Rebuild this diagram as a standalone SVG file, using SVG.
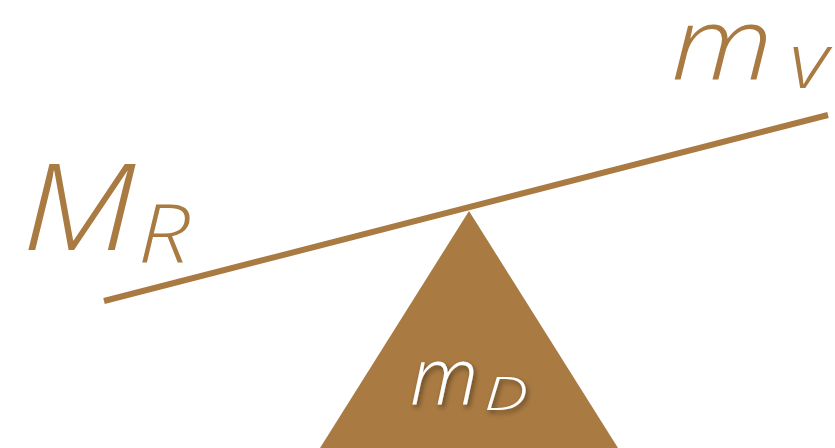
<svg xmlns="http://www.w3.org/2000/svg" width="835" height="448" viewBox="0 0 835 448">
<defs>
<style>
.t{font-family:"Open Sans","DejaVu Sans",sans-serif;font-style:italic;font-weight:350;fill:#A97A42}
.w{fill:#FFFFFF}
</style>
<filter id="sh" x="-20%" y="-20%" width="140%" height="140%">
<feDropShadow dx="2" dy="3" stdDeviation="2.5" flood-color="#000" flood-opacity="0.45"/>
</filter>
</defs>
<rect width="835" height="448" fill="#FFFFFF"/>
<g id="connectors">
<line x1="104" y1="301" x2="828" y2="115" stroke="#A97A42" stroke-width="6"/>
</g>
<g id="fulcrum">
<polygon points="469,211 320,448 618,448" fill="#A97A42"/>
<text class="t w" x="410" y="405" font-size="80" textLength="68" lengthAdjust="spacingAndGlyphs" filter="url(#sh)">m</text>
<text class="t w" x="484" y="410" font-size="46" textLength="44" lengthAdjust="spacingAndGlyphs" filter="url(#sh)">D</text>
</g>
<g id="MR">
<text class="t" x="22" y="250" font-size="120" textLength="114" lengthAdjust="spacingAndGlyphs">M</text>
<text class="t" x="138" y="262" font-size="82" textLength="52" lengthAdjust="spacingAndGlyphs">R</text>
</g>
<g id="mV">
<text class="t" x="671" y="80" font-size="102" textLength="102" lengthAdjust="spacingAndGlyphs">m</text>
<text class="t" x="789" y="88" font-size="78" textLength="39" lengthAdjust="spacingAndGlyphs">v</text>
</g>
</svg>
